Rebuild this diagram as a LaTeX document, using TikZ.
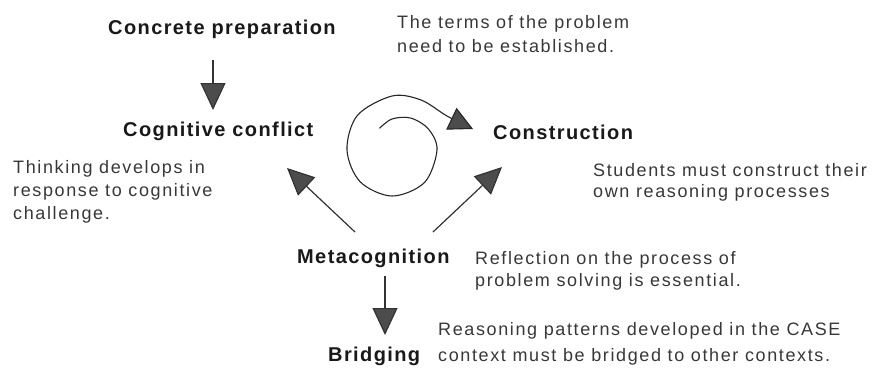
\documentclass[tikz,border=0pt]{standalone}
\usepackage{fontspec}
\setmainfont{Liberation Sans}
\newfontfamily\lblfont[LetterSpace=7]{Liberation Sans}
\newfontfamily\bodyfont[LetterSpace=9]{Liberation Sans}
\usetikzlibrary{arrows.meta,calc}
\tikzset{
  lbl/.style={font=\lblfont\bfseries\fontsize{20}{24}\selectfont, text=black!90, inner sep=0pt, anchor=base west},
  body/.style={font=\bodyfont\fontsize{18}{#1}\selectfont, text=black!78, inner sep=0pt, anchor=north west, align=left},
  arr/.style={draw=black!80, line width=1.2pt, -{Triangle[length=27pt,width=25pt,fill=black!70]}},
  spiralline/.style={draw=black!85, line width=1.1pt, -{Triangle[length=24pt,width=24pt,fill=black!70]}}
}
\begin{document}
\begin{tikzpicture}[x=1pt,y=-1pt]
\fill[white] (0,0) rectangle (878,368);
\useasboundingbox (0,0) rectangle (878,368);

% labels
\node[lbl] (conc) at (108,34) {Concrete preparation};
\node[lbl] (cog) at (123,136) {Cognitive conflict};
\node[lbl] (constr) at (493,139) {Construction};
\node[lbl] (meta) at (297,263) {Metacognition};
\node[lbl] (brid) at (328,361) {Bridging};

% explanatory texts
\node[body=24] (t1) at (397,15) {The terms of the problem\\need to be established.};
\node[body=23] (t2) at (13,160) {Thinking develops in\\response to cognitive\\challenge.};
\node[body=21] (t3) at (593,163) {Students must construct their\\own reasoning processes};
\node[body=22] (t4) at (475,251) {Reflection on the process of\\problem solving is essential.};
\node[body=26] (t5) at (438,322) {Reasoning patterns developed in the CASE\\context must be bridged to other contexts.};

% connectors
\draw[arr] ($(conc.base west)+(105,26)$) -- ($(cog.base west)+(90,-26)$);
\draw[arr] ($(meta.base west)+(58,-31)$) -- ($(cog.base west)+(164,32)$);
\draw[arr] ($(meta.base west)+(136,-31)$) -- ($(constr.base west)+(9,28)$);
\draw[arr] ($(meta.base west)+(88,13)$) -- ($(brid.base west)+(57,-26)$);

% spiral
\draw[spiralline] plot[smooth, tension=0.55] coordinates {
  (379.5,128.3) (392,119) (410.5,118) (428.4,129) (437,150) (424.5,182.5)
  (392,196) (360.2,181.8) (347,150) (357.4,115.4) (392,96) (421,100)
  (447,116) (473,129)};
\end{tikzpicture}
\end{document}
